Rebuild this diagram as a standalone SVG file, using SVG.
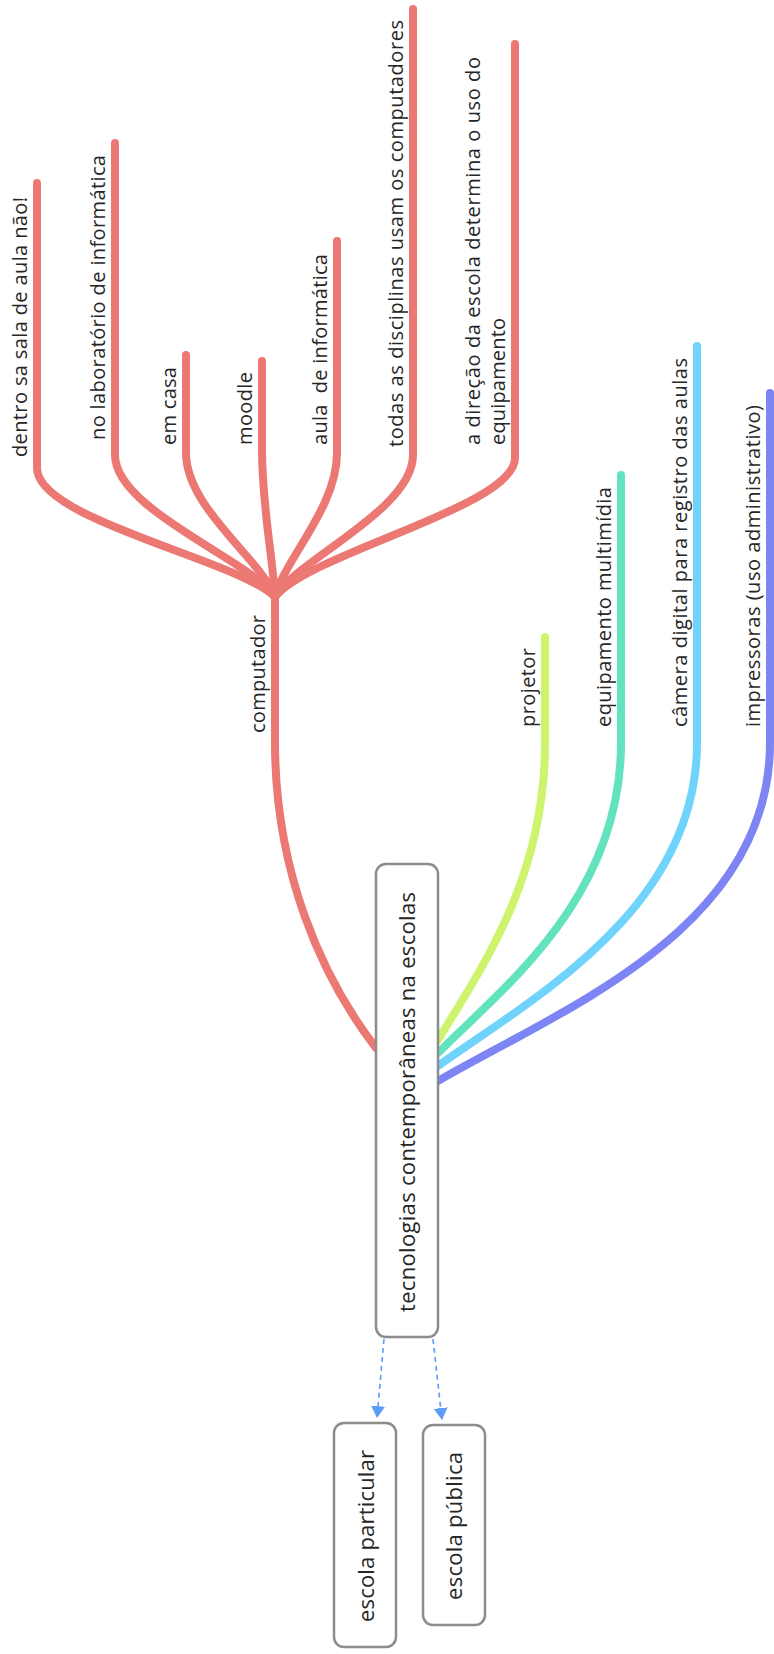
<svg xmlns="http://www.w3.org/2000/svg" width="774" height="1654" viewBox="0 0 774 1654">
<style>
  .br{fill:none;stroke-width:8;stroke-linecap:round;stroke-linejoin:round}
  .red{stroke:#ec7873}
  .lbl{font-family:"Open Sans","DejaVu Sans",sans-serif;font-size:20px;fill:#262626}
  .box{fill:#ffffff;stroke:#8c8c8c;stroke-width:2.5}
  .boxt{font-family:"Open Sans","DejaVu Sans",sans-serif;font-size:22px;fill:#262626;text-anchor:middle}
  .rel{fill:none;stroke:#5a9cf7;stroke-width:1.6;stroke-dasharray:5 4}
</style>
<defs>
  <marker id="ah" markerUnits="userSpaceOnUse" markerWidth="14" markerHeight="14" refX="12" refY="7" orient="auto">
    <path d="M0,0 L12,7 L0,14 z" fill="#5a9cf7"/>
  </marker>
</defs>
<rect width="774" height="1654" fill="#ffffff"/>
<g id="connectors">
  <path class="br red" d="M376,1048 C320,975 275,870 275,742 L275,597"/>
  <path class="br red" d="M275,597 C239,560 37,520 37,468 L37,183"/>
  <path class="br red" d="M275,597 C251,560 115,510 115,455 L115,143"/>
  <path class="br red" d="M275,597 C262,560 186,508 186,453 L186,355"/>
  <path class="br red" d="M275,597 C273,560 262,505 262,450 L262,361"/>
  <path class="br red" d="M275,597 C284,560 337,508 337,453 L337,241"/>
  <path class="br red" d="M275,597 C296,560 413,510 413,455 L413,9"/>
  <path class="br red" d="M275,597 C311,552 515,507 515,458 L515,44"/>
  <path class="br" stroke="#cdf46c" d="M438,1040 C480,970 545,880 545,743 L545,637"/>
  <path class="br" stroke="#62e2bd" d="M438,1053 C500,990 621,900 621,743 L621,475"/>
  <path class="br" stroke="#6fd3fb" d="M438,1066 C530,1000 697,910 697,743 L697,346"/>
  <path class="br" stroke="#7d85f4" d="M438,1081 C560,1010 770,930 770,743 L770,393"/>
  <path class="rel" d="M384,1339 L377,1418" marker-end="url(#ah)"/>
  <path class="rel" d="M433,1339 L442,1420" marker-end="url(#ah)"/>
</g>
<g id="node-central">
  <rect class="box" x="376" y="864" width="62" height="473" rx="10"/>
  <text class="boxt" transform="translate(415,1102) rotate(-90)" textLength="420" lengthAdjust="spacing">tecnologias contemporâneas na escolas</text>
</g>
<g id="node-computador">
  <text class="lbl" transform="translate(265,733) rotate(-90)" textLength="118" lengthAdjust="spacing">computador</text>
</g>
<g id="node-dentro">
  <text class="lbl" transform="translate(27,457) rotate(-90)" textLength="260" lengthAdjust="spacing">dentro sa sala de aula não!</text>
</g>
<g id="node-laboratorio">
  <text class="lbl" transform="translate(105,440) rotate(-90)" textLength="285" lengthAdjust="spacing">no laboratório de informática</text>
</g>
<g id="node-emcasa">
  <text class="lbl" transform="translate(176,445) rotate(-90)" textLength="78" lengthAdjust="spacing">em casa</text>
</g>
<g id="node-moodle">
  <text class="lbl" transform="translate(252,445) rotate(-90)" textLength="73" lengthAdjust="spacing">moodle</text>
</g>
<g id="node-aula">
  <text class="lbl" xml:space="preserve" transform="translate(327,445) rotate(-90)" textLength="191" lengthAdjust="spacing">aula  de informática</text>
</g>
<g id="node-todas">
  <text class="lbl" transform="translate(403,447) rotate(-90)" textLength="427" lengthAdjust="spacing">todas as disciplinas usam os computadores</text>
</g>
<g id="node-direcao">
  <text class="lbl" transform="translate(480,445) rotate(-90)" textLength="388" lengthAdjust="spacing">a direção da escola determina o uso do</text>
  <text class="lbl" transform="translate(505,445) rotate(-90)" textLength="127" lengthAdjust="spacing">equipamento</text>
</g>
<g id="node-projetor">
  <text class="lbl" transform="translate(535,727) rotate(-90)" textLength="79" lengthAdjust="spacing">projetor</text>
</g>
<g id="node-multimidia">
  <text class="lbl" transform="translate(611,727) rotate(-90)" textLength="240" lengthAdjust="spacing">equipamento multimídia</text>
</g>
<g id="node-camera">
  <text class="lbl" transform="translate(687,727) rotate(-90)" textLength="369" lengthAdjust="spacing">câmera digital para registro das aulas</text>
</g>
<g id="node-impressoras">
  <text class="lbl" transform="translate(760,727) rotate(-90)" textLength="322" lengthAdjust="spacing">impressoras (uso administrativo)</text>
</g>
<g id="node-particular">
  <rect class="box" x="334" y="1423" width="62" height="224" rx="10"/>
  <text class="boxt" transform="translate(374,1536) rotate(-90)" textLength="172" lengthAdjust="spacing">escola particular</text>
</g>
<g id="node-publica">
  <rect class="box" x="423" y="1425" width="62" height="200" rx="10"/>
  <text class="boxt" transform="translate(462,1526) rotate(-90)" textLength="148" lengthAdjust="spacing">escola pública</text>
</g>
</svg>
